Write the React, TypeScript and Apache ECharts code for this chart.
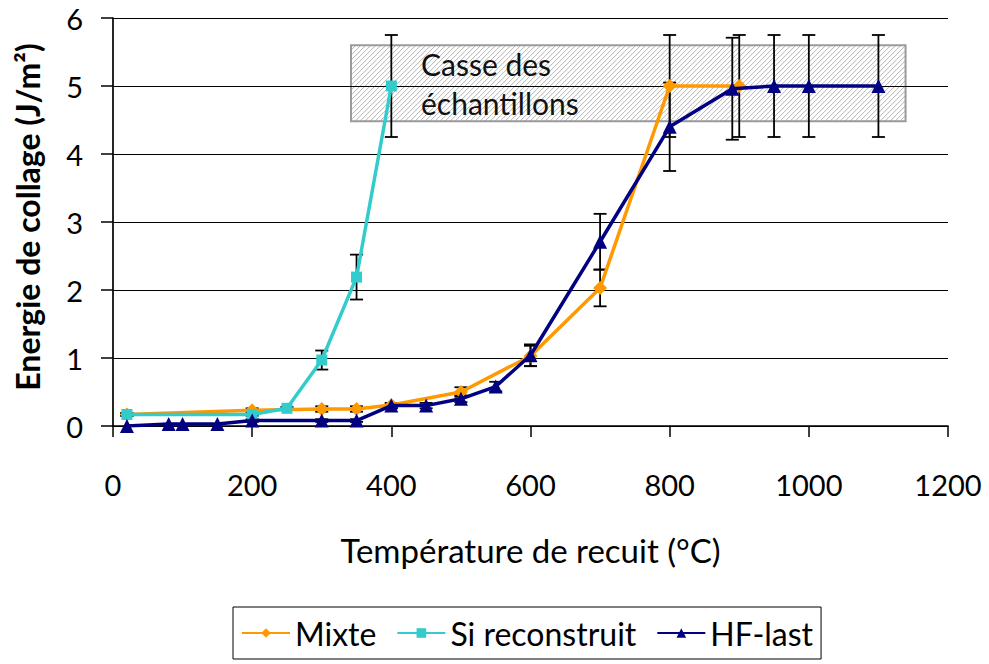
import React, { useEffect, useRef } from 'react';
import * as echarts from 'echarts';

// ---- Data ----
const mixteX = [20, 200, 300, 350, 400, 500, 600, 700, 800, 900];
const mixteY = [0.17, 0.23, 0.25, 0.25, 0.31, 0.5, 1.03, 2.03, 5.0, 5.0];
const mixteErr = [0.02, 0.03, 0.04, 0.04, 0.03, 0.07, 0.15, 0.27, 0.75, 0.75];

const siX = [20, 200, 250, 300, 350, 400];
const siY = [0.17, 0.17, 0.26, 0.97, 2.19, 5.0];
const siErr = [0.02, 0.02, 0.02, 0.14, 0.33, 0.75];

const hfX = [20, 80, 100, 150, 200, 300, 350, 400, 450, 500, 550, 600, 700, 800, 890, 950, 1000, 1100];
const hfY = [0.0, 0.03, 0.03, 0.03, 0.08, 0.08, 0.08, 0.3, 0.3, 0.4, 0.58, 1.04, 2.71, 4.4, 4.96, 5.0, 5.0, 5.0];
const hfErr = [0, 0, 0, 0, 0.02, 0.02, 0.02, 0.04, 0.04, 0.05, 0.07, 0.16, 0.41, 0.65, 0.75, 0.75, 0.75, 0.75];

// annotation box: [xStart, yLow, xEnd, yHigh]
const breakBox = [342, 4.48, 1139, 5.6];
const breakText = 'Casse des\néchantillons';

const seriesNames = ['Mixte', 'Si reconstruit', 'HF-last'];
const seriesColors = ['#FF9900', '#33CCCC', '#000080'];

const FONT = 'Lato';

function errSeries(name: string, xs: number[], ys: number[], es: number[]) {
  return {
    type: 'custom',
    name: name + ' (err)',
    data: xs.map((x, i) => [x, ys[i], es[i]]),
    encode: { x: 0, y: 1 },
    z: 3,
    silent: true,
    renderItem: (params: any, api: any) => {
      const x = api.value(0);
      const y = api.value(1);
      const e = api.value(2);
      if (!e) return { type: 'group', children: [] };
      const t = api.coord([x, y + e]);
      const b = api.coord([x, y - e]);
      const hw = 6.5;
      const st = { stroke: '#000', lineWidth: 1.8 };
      return {
        type: 'group',
        children: [
          { type: 'line', shape: { x1: t[0], y1: t[1], x2: b[0], y2: b[1] }, style: st },
          { type: 'line', shape: { x1: t[0] - hw, y1: t[1], x2: t[0] + hw, y2: t[1] }, style: st },
          { type: 'line', shape: { x1: b[0] - hw, y1: b[1], x2: b[0] + hw, y2: b[1] }, style: st },
        ],
      };
    },
  };
}

export default function App() {
  const ref = useRef<HTMLDivElement>(null);
  useEffect(() => {
    const chart = echarts.init(ref.current!, null, { renderer: 'svg' });

    const boxSeries = {
      type: 'custom',
      name: 'box',
      data: [breakBox],
      encode: { x: [0, 2], y: [1, 3] },
      z: 1,
      silent: true,
      renderItem: (params: any, api: any) => {
        const p0 = api.coord([api.value(0), api.value(3)]);
        const p1 = api.coord([api.value(2), api.value(1)]);
        const x0 = p0[0], y0 = p0[1], x1 = p1[0], y1 = p1[1];
        const children: any[] = [];
        const s = 5;
        for (let c = x0 + y0 + s; c < x1 + y1; c += s) {
          const xa = Math.max(x0, c - y1);
          const xb = Math.min(x1, c - y0);
          if (xb <= xa) continue;
          children.push({
            type: 'line',
            shape: { x1: xa, y1: c - xa, x2: xb, y2: c - xb },
            style: { stroke: '#b4b4b4', lineWidth: 1 },
          });
        }
        children.push({
          type: 'rect',
          shape: { x: x0, y: y0, width: x1 - x0, height: y1 - y0 },
          style: { fill: 'none', stroke: '#9a9a9a', lineWidth: 2 },
        });
        children.push({
          type: 'text',
          x: x0 + 70,
          y: y0 - 1,
          style: {
            text: breakText,
            fontFamily: FONT,
            fontSize: 30,
            lineHeight: 39,
            fill: '#111',
            verticalAlign: 'top',
            align: 'left',
          },
        });
        return { type: 'group', children };
      },
    };

    const lineSeries = [
      [mixteX, mixteY, 'diamond', 14],
      [siX, siY, 'rect', 11],
      [hfX, hfY, 'triangle', 14],
    ].map((d: any, i) => ({
      type: 'line',
      name: seriesNames[i],
      data: d[0].map((x: number, j: number) => [x, d[1][j]]),
      symbol: d[2],
      symbolSize: d[3],
      showSymbol: true,
      z: 5 + i,
      lineStyle: { color: seriesColors[i], width: 3.5 },
      itemStyle: { color: seriesColors[i] },
    }));

    chart.setOption({
      animation: false,
      backgroundColor: '#fff',
      textStyle: { fontFamily: FONT, color: '#000' },
      grid: { left: 113, right: 41, top: 18, bottom: 238 },
      legend: {
        data: seriesNames,
        left: 233,
        top: 607,
        padding: [10, 8, 10, 8],
        borderColor: '#000',
        borderWidth: 1,
        itemWidth: 48,
        itemHeight: 12,
        itemGap: 20,
        textStyle: { fontFamily: FONT, fontSize: 32, color: '#000' },
      },
      xAxis: {
        type: 'value',
        min: 0,
        max: 1200,
        interval: 200,
        name: 'Température de recuit (°C)',
        nameLocation: 'middle',
        nameGap: 107,
        nameTextStyle: { fontFamily: FONT, fontSize: 33, color: '#000' },
        axisLine: { show: true, lineStyle: { color: '#000', width: 1.7 } },
        axisTick: { show: true, inside: false, length: 11, lineStyle: { color: '#000', width: 1.5 } },
        axisLabel: { fontFamily: FONT, fontSize: 29, color: '#000', margin: 44, formatter: (v: number) => String(v) },
        splitLine: { show: false },
      },
      yAxis: {
        type: 'value',
        min: 0,
        max: 6,
        interval: 1,
        z: 2,
        name: 'Energie de collage (J/m²)',
        nameLocation: 'middle',
        nameGap: 70,
        nameTextStyle: { fontFamily: FONT, fontSize: 32, fontWeight: 'bold', color: '#000', padding: [0, 0, 0, 10] },
        axisLine: { show: true, lineStyle: { color: '#000', width: 1.7 } },
        axisTick: { show: true, inside: false, length: 12, lineStyle: { color: '#000', width: 1.5 } },
        axisLabel: { fontFamily: FONT, fontSize: 29, color: '#000', margin: 30 },
        splitLine: { show: true, lineStyle: { color: '#000', width: 1.2 } },
      },
      series: [
        boxSeries,
        errSeries('Mixte', mixteX, mixteY, mixteErr),
        errSeries('Si reconstruit', siX, siY, siErr),
        errSeries('HF-last', hfX, hfY, hfErr),
        ...lineSeries,
      ],
    });
    return () => chart.dispose();
  }, []);
  return <div ref={ref} style={{ position: 'absolute', left: 0, top: 0, width: 989, height: 664 }} />;
}
